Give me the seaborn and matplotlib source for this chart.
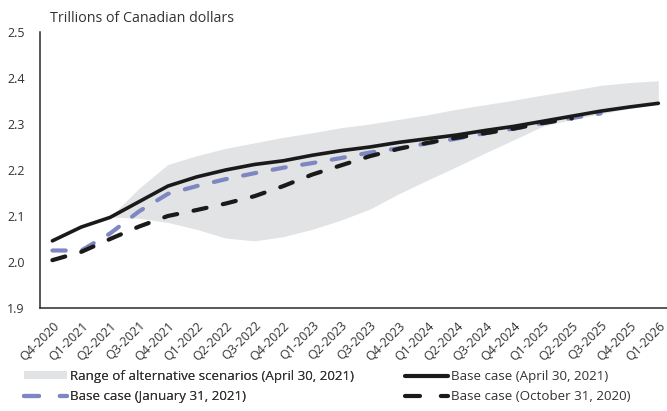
import numpy as np
import pandas as pd
import matplotlib
matplotlib.use("Agg")
import matplotlib.pyplot as plt
import matplotlib.transforms as mtransforms
from matplotlib.patches import Patch
from matplotlib.lines import Line2D
import seaborn as sns

# Datos (billones de dolares canadienses)
quarters = ["Q4-2020", "Q1-2021", "Q2-2021", "Q3-2021", "Q4-2021", "Q1-2022",
            "Q2-2022", "Q3-2022", "Q4-2022", "Q1-2023", "Q2-2023", "Q3-2023",
            "Q4-2023", "Q1-2024", "Q2-2024", "Q3-2024", "Q4-2024", "Q1-2025",
            "Q2-2025", "Q3-2025", "Q4-2025", "Q1-2026"]

base_apr_2021 = [2.046, 2.076, 2.097, 2.131, 2.165, 2.185, 2.200, 2.212, 2.220,
                 2.232, 2.242, 2.250, 2.260, 2.268, 2.276, 2.286, 2.295, 2.306,
                 2.317, 2.328, 2.337, 2.345]
base_jan_2021 = [2.025, 2.025, 2.062, 2.110, 2.148, 2.165, 2.180, 2.193, 2.205,
                 2.215, 2.226, 2.238, 2.247, 2.258, 2.268, 2.280, 2.290, 2.302,
                 2.313, 2.323]
base_oct_2020 = [2.004, 2.022, 2.050, 2.077, 2.100, 2.113, 2.127, 2.143, 2.165,
                 2.190, 2.210, 2.230, 2.246, 2.259, 2.270, 2.280, 2.290, 2.302,
                 2.312]

# Rango de escenarios alternativos (desde Q2-2021)
range_start = 2
range_upper = [2.098, 2.160, 2.212, 2.231, 2.247, 2.259, 2.271, 2.281, 2.292,
               2.300, 2.310, 2.320, 2.332, 2.342, 2.352, 2.363, 2.373, 2.384,
               2.390, 2.394]
range_lower = [2.098, 2.095, 2.086, 2.071, 2.052, 2.046, 2.055, 2.071, 2.091,
               2.115, 2.148, 2.178, 2.207, 2.237, 2.266, 2.295, 2.310, 2.322,
               2.334, 2.345]

y_ticks = [1.9, 2.0, 2.1, 2.2, 2.3, 2.4, 2.5]

legend_left = ["Range of alternative scenarios (April 30, 2021)",
               "Base case (January 31, 2021)"]
legend_right = ["Base case (April 30, 2021)",
                "Base case (October 31, 2020)"]


def main():
    sns.set_theme(style="white")
    plt.rcParams["font.family"] = ["Open Sans", "DejaVu Sans"]

    text_color = "#333333"
    band_color = "#e2e3e5"
    blue = "#7f87c2"
    black = "#1a1a1a"
    dash = (3.2, 4.0)

    fig = plt.figure(figsize=(6.67, 4.11), dpi=100)
    ax = fig.add_axes([40 / 667, 1 - 308 / 411, 627 / 667, 276 / 411])

    idx = np.arange(len(quarters))

    # banda de escenarios
    band_x = idx[range_start:range_start + len(range_upper)]
    ax.fill_between(band_x, range_lower, range_upper, color=band_color,
                    linewidth=0, zorder=1)

    df_jan = pd.DataFrame({"x": idx[:len(base_jan_2021)], "y": base_jan_2021})
    df_oct = pd.DataFrame({"x": idx[:len(base_oct_2020)], "y": base_oct_2020})
    df_apr = pd.DataFrame({"x": idx, "y": base_apr_2021})

    lw = 3.0
    sns.lineplot(data=df_jan, x="x", y="y", ax=ax, color=blue, linewidth=lw,
                 zorder=3)
    ax.lines[-1].set_dashes(dash)
    ax.lines[-1].set_dash_capstyle("round")
    sns.lineplot(data=df_oct, x="x", y="y", ax=ax, color=black, linewidth=lw,
                 zorder=4)
    ax.lines[-1].set_dashes(dash)
    ax.lines[-1].set_dash_capstyle("round")
    sns.lineplot(data=df_apr, x="x", y="y", ax=ax, color=black, linewidth=2.6,
                 zorder=5)
    ax.lines[-1].set_solid_capstyle("round")

    ax.set_xlim(-0.43, len(quarters) - 1 + 0.3)
    ax.set_ylim(1.9, 2.5)
    ax.set_yticks(y_ticks)
    ax.set_yticklabels([f"{v:.1f}" for v in y_ticks])
    ax.set_xticks(idx)
    ax.set_xticklabels(quarters, rotation=45, ha="right", va="top",
                       rotation_mode="anchor")
    offset = mtransforms.ScaledTranslation(8 / 100, 0, fig.dpi_scale_trans)
    for lab in ax.get_xticklabels():
        lab.set_transform(lab.get_transform() + offset)

    ax.set_xlabel("")
    ax.set_ylabel("")
    ax.tick_params(axis="both", length=0, colors=text_color, labelsize=9)
    ax.tick_params(axis="y", pad=11)
    ax.tick_params(axis="x", pad=8)

    for side in ["top", "right"]:
        ax.spines[side].set_visible(False)
    for side in ["left", "bottom"]:
        ax.spines[side].set_color("#2a2a2a")
        ax.spines[side].set_linewidth(1.1)
    ax.grid(False)

    fig.text(50 / 667, 1 - 19 / 411, "Trillions of Canadian dollars",
             fontsize=10.3, color=text_color, va="center", ha="left")

    # leyenda en dos columnas, colocadas por separado
    h_left = [
        Patch(facecolor=band_color, edgecolor="none"),
        Line2D([], [], color=blue, linewidth=lw, dashes=(3.6, 5.0),
               dash_capstyle="round"),
    ]
    h_right = [
        Line2D([], [], color=black, linewidth=lw, solid_capstyle="round"),
        Line2D([], [], color=black, linewidth=lw, dashes=(3.6, 5.0),
               dash_capstyle="round"),
    ]
    common = dict(loc="upper left", frameon=False, fontsize=9.6,
                  handlelength=3.2, handleheight=0.55, handletextpad=0.25,
                  labelspacing=0.55, borderpad=0, borderaxespad=0,
                  labelcolor=text_color)
    leg1 = fig.legend(h_left, legend_left,
                      bbox_to_anchor=(24 / 667, 1 - 370 / 411), **common)
    fig.legend(h_right, legend_right,
               bbox_to_anchor=(405 / 667, 1 - 370 / 411), **common)
    fig.add_artist(leg1)

    fig.savefig("out.png", dpi=100)
    plt.close(fig)


if __name__ == "__main__":
    main()
